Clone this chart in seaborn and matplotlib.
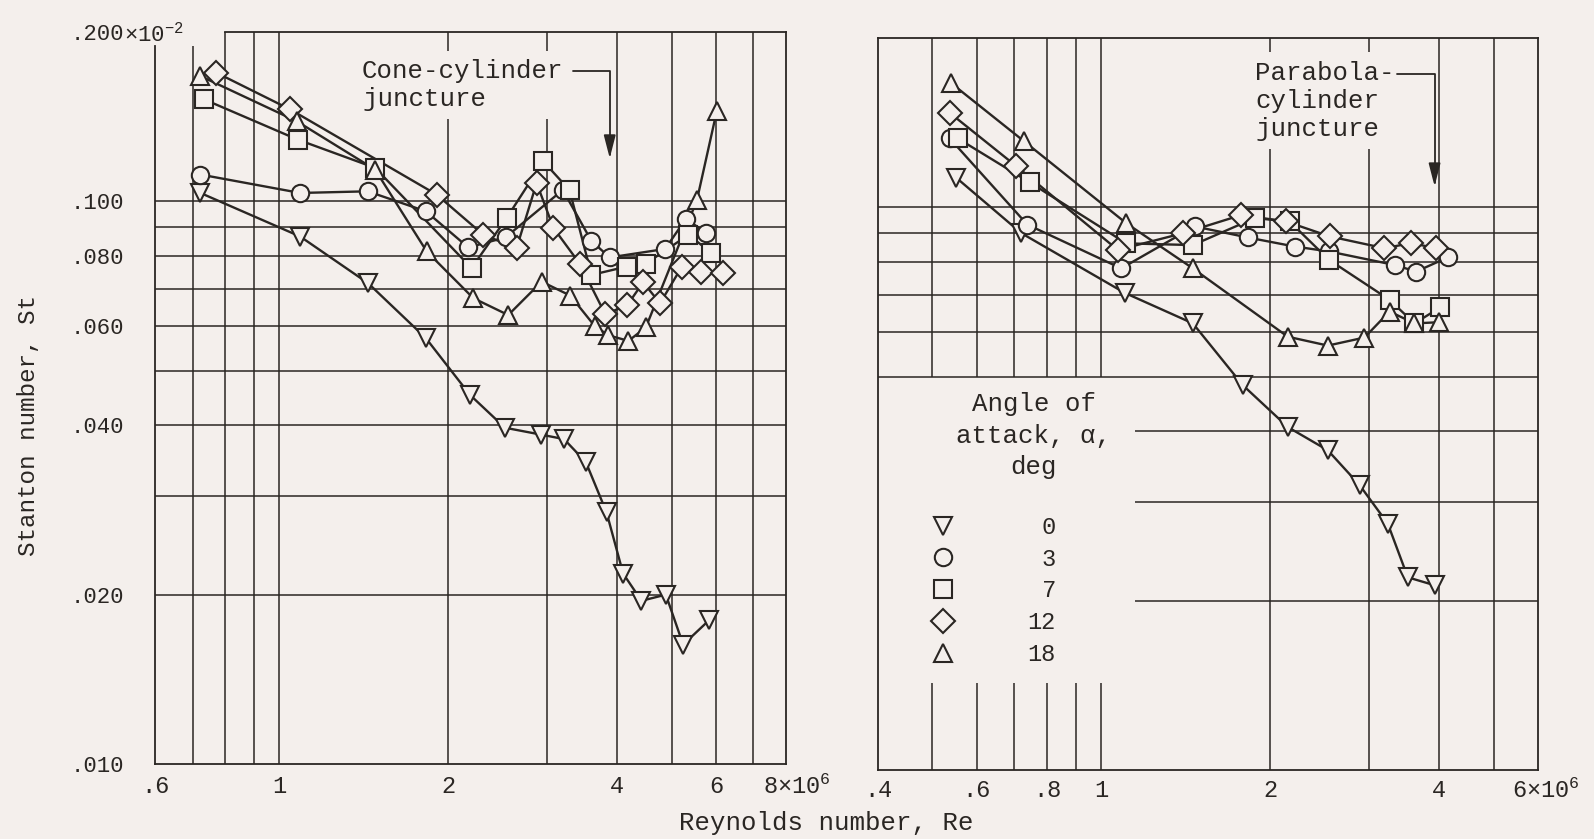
import matplotlib
matplotlib.use("Agg")
import matplotlib.pyplot as plt
import matplotlib.transforms as mtransforms
from matplotlib.lines import Line2D
from matplotlib.ticker import NullLocator
import pandas as pd
import seaborn as sns

# ---------------- data (Stanton number in units of 10^-2, Re in 10^6) ----------------
ALPHAS = [0, 3, 7, 12, 18]

# Left panel: cone-cylinder
L_RE_0 = [0.723, 1.089, 1.44, 1.825, 2.186, 2.523, 2.925, 3.216, 3.518, 3.83, 4.10, 4.42, 4.885, 5.245, 5.83]
L_ST_0 = [0.1035, 0.0866, 0.0715, 0.0571, 0.0453, 0.0396, 0.0385, 0.0378, 0.0344, 0.0280, 0.0218, 0.0195, 0.0200, 0.0163, 0.0180]
L_RE_3 = [0.723, 1.089, 1.437, 1.825, 2.171, 2.53, 3.20, 3.60, 3.88, 4.87, 5.30, 5.77]
L_ST_3 = [0.1116, 0.1035, 0.1042, 0.0960, 0.0828, 0.0863, 0.1048, 0.0850, 0.0795, 0.0823, 0.0930, 0.0880]
L_RE_7 = [0.734, 1.077, 1.481, 2.20, 2.541, 2.953, 3.29, 3.60, 4.165, 4.50, 5.36, 5.89]
L_ST_7 = [0.1518, 0.1288, 0.1147, 0.0761, 0.0934, 0.1178, 0.1047, 0.0740, 0.0766, 0.0775, 0.0872, 0.0810]
L_RE_12 = [0.772, 1.045, 1.907, 2.31, 2.647, 2.874, 3.08, 3.43, 3.81, 4.17, 4.45, 4.77, 5.22, 5.64, 6.17]
L_ST_12 = [0.1693, 0.1457, 0.1028, 0.0872, 0.0826, 0.1078, 0.0897, 0.0775, 0.0630, 0.0654, 0.0718, 0.0659, 0.0766, 0.0748, 0.0747]
L_RE_18 = [0.723, 1.074, 1.481, 1.83, 2.216, 2.558, 2.934, 3.30, 3.65, 3.86, 4.19, 4.50, 5.55, 6.02]
L_ST_18 = [0.1670, 0.1388, 0.1139, 0.0815, 0.0673, 0.0628, 0.0720, 0.0680, 0.0600, 0.0578, 0.0565, 0.0597, 0.1005, 0.1446]

# Right panel: parabola-cylinder
R_RE_0 = [0.552, 0.720, 1.100, 1.456, 1.787, 2.149, 2.533, 2.885, 3.24, 3.517, 3.925]
R_ST_0 = [0.1128, 0.0900, 0.0705, 0.0622, 0.0483, 0.0407, 0.0370, 0.0321, 0.0274, 0.0220, 0.0213]
R_RE_3 = [0.537, 0.738, 1.085, 1.466, 1.824, 2.21, 2.544, 3.33, 3.64, 4.145]
R_ST_3 = [0.1326, 0.0932, 0.0779, 0.0925, 0.0884, 0.0852, 0.0835, 0.0790, 0.0769, 0.0815]
R_RE_7 = [0.555, 0.745, 1.108, 1.456, 1.876, 2.165, 2.544, 3.263, 3.614, 4.018]
R_ST_7 = [0.1326, 0.1108, 0.0863, 0.0857, 0.0957, 0.0944, 0.0807, 0.0685, 0.0622, 0.0664]
R_RE_12 = [0.537, 0.706, 1.07, 1.40, 1.775, 2.133, 2.552, 3.196, 3.566, 3.951]
R_ST_12 = [0.1472, 0.1183, 0.084, 0.090, 0.0969, 0.0944, 0.0888, 0.0846, 0.0864, 0.0846]
R_RE_18 = [0.539, 0.728, 1.108, 1.456, 2.149, 2.533, 2.944, 3.263, 3.614, 4.005]
R_ST_18 = [0.1665, 0.1311, 0.0937, 0.0779, 0.0589, 0.0568, 0.0587, 0.0653, 0.0622, 0.0625]

LEGEND_LABELS = [" 0", " 3", " 7", "12", "18"]
MARKERS = {0: "v", 3: "o", 7: "s", 12: "D", 18: "^"}

LX_TICKS = [0.6, 1, 2, 4, 6, 8]
LX_LABELS = [".6", "1", "2", "4", "6", "8×10$^{6}$"]
RX_TICKS = [0.4, 0.6, 0.8, 1, 2, 4, 6]
RX_LABELS = [".4", ".6", ".8", "1", "2", "4", "6×10$^{6}$"]
Y_TICKS = [0.01, 0.02, 0.04, 0.06, 0.08, 0.1, 0.2]
Y_LABELS = [".010", ".020", ".040", ".060", ".080", ".100", ".200"]


def frame(re_lists, st_lists):
    rows = []
    for a, re, st in zip(ALPHAS, re_lists, st_lists):
        for r, s in zip(re, st):
            rows.append((a, r, s))
    return pd.DataFrame(rows, columns=["alpha", "Re", "St"])


dfL = frame([L_RE_0, L_RE_3, L_RE_7, L_RE_12, L_RE_18], [L_ST_0, L_ST_3, L_ST_7, L_ST_12, L_ST_18])
dfR = frame([R_RE_0, R_RE_3, R_RE_7, R_RE_12, R_RE_18], [R_ST_0, R_ST_3, R_ST_7, R_ST_12, R_ST_18])

# ---------------- style ----------------
BG = "#f4efec"
INK = "#2a2623"
sns.set_theme(style="white")
FONT = ["Liberation Mono", "DejaVu Sans Mono", "DejaVu Sans"]
plt.rcParams["font.family"] = FONT
plt.rcParams["mathtext.fontset"] = "custom"
plt.rcParams["mathtext.rm"] = "Liberation Mono"
plt.rcParams["mathtext.it"] = "Liberation Mono"
plt.rcParams["mathtext.bf"] = "Liberation Mono"
plt.rcParams["text.color"] = INK

W, H = 1594, 839
fig = plt.figure(figsize=(W / 100, H / 100), dpi=100, facecolor=BG)
axL = fig.add_axes([155 / W, 1 - 764 / H, 631 / W, 732 / H])
axR = fig.add_axes([878 / W, 1 - 770 / H, 660 / W, 732 / H])

GL = dict(color=INK, lw=1.1, zorder=1)
MS = 12.5


def draw(ax, df):
    sns.lineplot(data=df, x="Re", y="St", units="alpha", estimator=None, sort=False,
                 color=INK, lw=1.7, ax=ax, legend=False, zorder=2)
    sns.lineplot(data=df, x="Re", y="St", style="alpha", markers=MARKERS, dashes=False,
                 estimator=None, sort=False, color=INK, linestyle="none",
                 markersize=MS, markerfacecolor=BG, markeredgecolor=INK,
                 markeredgewidth=1.5, ax=ax, legend=False, zorder=3)


def setup(ax, xlim):
    ax.set_facecolor(BG)
    ax.set_xscale("log")
    ax.set_yscale("log")
    ax.set_xlim(*xlim)
    ax.set_ylim(0.01, 0.2)
    ax.grid(False)
    ax.set_xlabel("")
    ax.set_ylabel("")
    for sp in ax.spines.values():
        sp.set_visible(True)
        sp.set_color(INK)
        sp.set_linewidth(1.3)


draw(axL, dfL)
draw(axR, dfR)
setup(axL, (0.6, 8))
setup(axR, (0.4, 6))

# ---- left panel grid / ticks ----
axL.vlines([0.7], 0.01, 0.189, **GL)
axL.vlines([0.8, 0.9, 1, 2, 3, 4, 5, 6, 7], 0.01, 0.2, **GL)
axL.hlines([0.02, 0.03, 0.04, 0.05, 0.06, 0.07, 0.08, 0.09, 0.1], 0.6, 8, **GL)
axL.spines["left"].set_bounds(0.01, 0.189)
axL.spines["top"].set_bounds(0.8, 8)
axL.set_xticks(LX_TICKS, LX_LABELS)
axL.set_yticks(Y_TICKS, Y_LABELS)
axL.xaxis.set_minor_locator(NullLocator())
axL.yaxis.set_minor_locator(NullLocator())
axL.tick_params(axis="both", length=0, colors=INK)
axL.tick_params(axis="x", pad=8, labelsize=17)
axL.tick_params(axis="y", pad=22, labelsize=16)
axL.annotate("×10$^{-2}$", xy=(0, 0.2), xycoords=("axes fraction", "data"),
             xytext=(-22, 0), textcoords="offset points", ha="left",
             va="center_baseline", fontsize=16, color=INK, annotation_clip=False)

# ---- right panel grid / ticks ----
axR.vlines([0.5, 0.6, 0.7, 0.8, 0.9, 1], 0.05, 0.2, **GL)
axR.vlines([0.5, 0.6, 0.7, 0.8, 0.9, 1], 0.01, 0.0143, **GL)
axR.vlines([2, 3, 4, 5], 0.01, 0.2, **GL)
axR.hlines([0.05, 0.06, 0.07, 0.08, 0.09, 0.1], 0.4, 6, **GL)
axR.hlines([0.02, 0.03, 0.04], 1.146, 6, **GL)
axR.set_xticks(RX_TICKS, RX_LABELS)
axR.set_yticks([0.02, 0.03, 0.04], ["", "", ""])
axR.xaxis.set_minor_locator(NullLocator())
axR.yaxis.set_minor_locator(NullLocator())
axR.tick_params(axis="x", length=0, labelsize=17, colors=INK, pad=6.5)
axR.tick_params(axis="y", direction="in", length=5, width=1.1, colors=INK)

for ax, dx in ((axL, 11), (axR, 8)):
    lbl = ax.get_xticklabels()[-1]
    lbl.set_transform(lbl.get_transform() + mtransforms.ScaledTranslation(dx / 100, 0, fig.dpi_scale_trans))

# ---- annotations ----
BOX = dict(facecolor=BG, edgecolor="none", pad=6)
axL.text(1.404, 0.161, "Cone-cylinder\njuncture", ha="left", va="center", fontsize=18.5,
         linespacing=1.22, color=INK, bbox=BOX, zorder=4)
axL.annotate("", xy=(3.88, 0.1193), xytext=(3.336, 0.1704),
             arrowprops=dict(arrowstyle="-|>,head_length=0.7,head_width=0.18", color=INK, lw=1.3,
                             connectionstyle="angle,angleA=0,angleB=90,rad=0",
                             shrinkA=0, shrinkB=0, mutation_scale=20), zorder=4)

axR.text(1.879, 0.1547, "Parabola-\ncylinder\njuncture", ha="left", va="center", fontsize=18.5,
         linespacing=1.22, color=INK, bbox=BOX, zorder=4)
axR.annotate("", xy=(3.925, 0.1090), xytext=(3.37, 0.1725),
             arrowprops=dict(arrowstyle="-|>,head_length=0.7,head_width=0.18", color=INK, lw=1.3,
                             connectionstyle="angle,angleA=0,angleB=90,rad=0",
                             shrinkA=0, shrinkB=0, mutation_scale=20), zorder=4)

# ---- legend ----
axR.text(0.758, 0.0393, "Angle of\nattack, α,\ndeg", ha="center", va="center",
         multialignment="center", fontsize=18.5, linespacing=1.38, color=INK, zorder=4)
handles = [Line2D([], [], marker=MARKERS[a], ls="none", markersize=MS, markerfacecolor=BG,
                  markeredgecolor=INK, markeredgewidth=1.5) for a in ALPHAS]
leg = axR.legend(handles, LEGEND_LABELS, loc="upper left", bbox_to_anchor=(0.080, 0.3470),
                 frameon=False, prop=dict(family=FONT, size=17), handlelength=1.0,
                 handletextpad=3.1, labelspacing=0.37, borderpad=0, borderaxespad=0)
for t in leg.get_texts():
    t.set_color(INK)

# ---- axis titles ----
fig.text(28.5 / W, 1 - 425 / H, "Stanton number, St", rotation=90, ha="center", va="center",
         fontsize=17.5, color=INK)
fig.text(826 / W, 1 - 823 / H, "Reynolds number, Re", ha="center", va="center",
         fontsize=18.5, color=INK)

fig.savefig("out.png", dpi=100, facecolor=BG)
